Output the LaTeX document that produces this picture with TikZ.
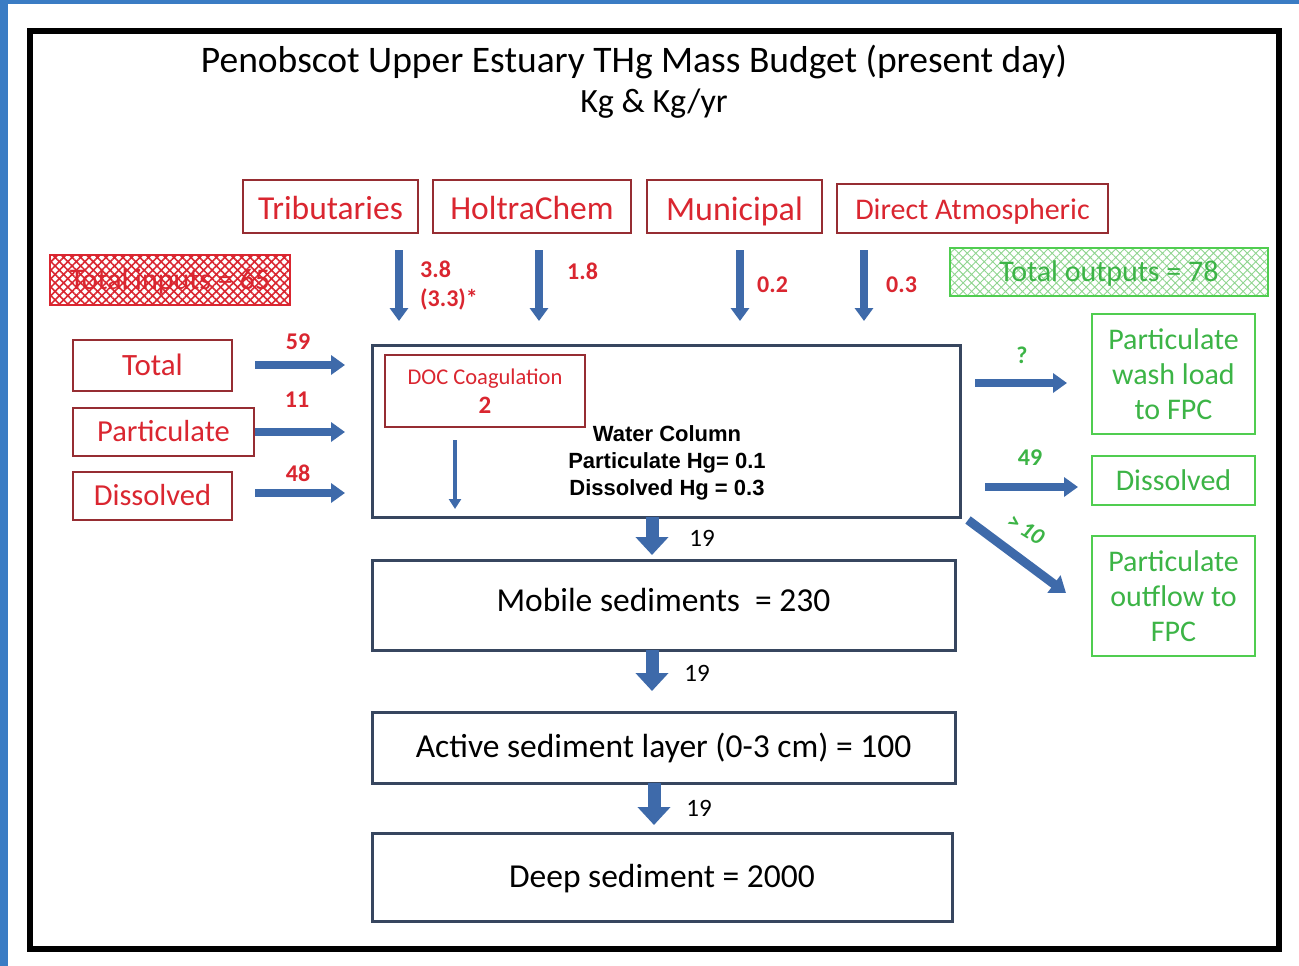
\documentclass[tikz,border=0pt]{standalone}
\usepackage{fontspec}
\setmainfont{Carlito}
\newfontfamily\arialf{Liberation Sans}
\usetikzlibrary{arrows.meta,patterns.meta}
\definecolor{frameblue}{RGB}{58,124,196}
\definecolor{boxred}{RGB}{150,45,50}
\definecolor{txtred}{RGB}{218,38,48}
\definecolor{boxgreen}{RGB}{80,205,80}
\definecolor{txtgreen}{RGB}{60,180,70}
\definecolor{arrowblue}{RGB}{62,106,170}
\definecolor{slate}{RGB}{55,70,95}
\newcommand{\fsz}[1]{\fontsize{#1}{#1}\selectfont}
\tikzset{
  fs/.style 2 args={font=\fsz{#1}, text height=#2*#1pt, text depth=0.2*#1pt},
  redbox/.style={draw=boxred, line width=1.5pt, text=txtred, inner sep=0pt},
  greenbox/.style={draw=boxgreen, line width=1.5pt, text=txtgreen, inner sep=0pt, align=center},
  slatebox/.style={draw=slate, line width=3pt, inner sep=0pt},
  redlbl/.style={text=txtred, font=\fsz{24}\bfseries, inner sep=0pt},
  greenlbl/.style={text=txtgreen, font=\fsz{24}\bfseries, inner sep=0pt},
  blacklbl/.style={text=black, font=\fsz{25}, inner sep=0pt},
  downarrow/.style={draw=arrowblue, line width=8pt, -{Triangle[width=18pt,length=13pt]}},
  sidearrow/.style={draw=arrowblue, line width=8pt, -{Triangle[width=19pt,length=14pt]}},
  bigarrow/.style={draw=arrowblue, line width=13pt, -{Triangle[width=32pt,length=18pt]}},
  thinarrow/.style={draw=arrowblue, line width=3.5pt, -{Triangle[width=12pt,length=10pt]}},
}
\begin{document}
\begin{tikzpicture}[x=1pt,y=-1pt]
\useasboundingbox (0,0) rectangle (1299,966);
\fill[white] (0,0) rectangle (1299,966);
\fill[frameblue] (0,0) rectangle (1299,4);
\fill[frameblue] (0,0) rectangle (8,966);
\draw[line width=6pt] (30,31.5) rectangle (1279,948.5);

% title
\node[font=\fsz{37.5}, inner sep=0pt, anchor=base] (title) at (634,73) {Penobscot Upper Estuary THg Mass Budget (present day)};
\node[font=\fsz{34}, inner sep=0pt, anchor=base] (sub) at (654,113) {Kg \& Kg/yr};

% top sources
\node[redbox, fs={33.5}{1.0}, minimum width=175pt, minimum height=53pt] (trib) at (330.5,206.5) {Tributaries};
\node[redbox, fs={33.5}{1.0}, minimum width=198pt, minimum height=53pt] (holt) at (532,206.5) {HoltraChem};
\node[redbox, fs={34}{1.0}, minimum width=175pt, minimum height=53pt] (muni) at (734.5,206.5) {Municipal};
\node[redbox, fs={30}{0.9}, minimum width=271pt, minimum height=49pt] (atm) at (972.5,208.5) {Direct Atmospheric};

% totals
\node[draw=txtred, line width=1.5pt, minimum width=240pt, minimum height=50pt, inner sep=0pt,
      fill=red!12, pattern={Hatch[angle=45,distance=6pt,line width=1.6pt]}, pattern color=txtred] (tin) at (170,280) {};
\node[text=txtred, fs={30}{0.86}, inner sep=0pt] (tinlbl) at (tin.center) {Total inputs = 65};
\node[draw=boxgreen, line width=1.5pt, minimum width=318pt, minimum height=48pt, inner sep=0pt,
      pattern={Hatch[angle=45,distance=6pt,line width=0.9pt]}, pattern color=green!45!gray!60] (tout) at (1109,272) {};
\node[text=txtgreen, fs={30}{0.86}, inner sep=0pt] (toutlbl) at (tout.center) {Total outputs = 78};

% top arrows
\coordinate (a1s) at (399,250); \coordinate (a1e) at (399,321);
\coordinate (a2s) at (539,250); \coordinate (a2e) at (539,321);
\coordinate (a3s) at (740,250); \coordinate (a3e) at (740,321);
\coordinate (a4s) at (864,250); \coordinate (a4e) at (864,321);
\draw[downarrow] (a1s) -- (a1e);
\draw[downarrow] (a2s) -- (a2e);
\draw[downarrow] (a3s) -- (a3e);
\draw[downarrow] (a4s) -- (a4e);
\node[redlbl, anchor=west] (l38) at (420,269) {3.8};
\node[redlbl, anchor=west] (l33) at (420,299) {(3.3)*};
\node[redlbl, anchor=west] (l18) at (567,271) {1.8};
\node[redlbl, anchor=west] (l02) at (757,285) {0.2};
\node[redlbl, anchor=west] (l03) at (886,285) {0.3};

% left inputs
\node[redbox, fs={31}{0.82}, minimum width=159pt, minimum height=51pt] (tot) at (152.5,365.5) {Total};
\node[redbox, fs={30.5}{0.82}, minimum width=181pt, minimum height=48pt] (part) at (163.5,432) {Particulate};
\node[redbox, fs={30.5}{0.82}, minimum width=159pt, minimum height=48pt] (diss) at (152.5,496) {Dissolved};

% water column
\node[slatebox, minimum width=588pt, minimum height=172pt] (wc) at (666,431) {};
\node[redbox, minimum width=200pt, minimum height=72pt, font=\fsz{22.5}, align=center] (doc) at (485,391) {DOC Coagulation\\[7pt]{\fsz{25}\bfseries 2}};
\node[font=\arialf\bfseries\fsz{22}, align=center, inner sep=0pt] (wctext) at (667,463) {Water Column\\[5pt]Particulate Hg= 0.1\\[5pt]Dissolved Hg = 0.3};
\coordinate (docs) at (455,440);
\coordinate (doce) at (455,509);
\draw[thinarrow] (docs) -- (doce);

\coordinate (s1) at (255,365); \coordinate (t1) at (345,365);
\coordinate (s2) at (255,432); \coordinate (t2) at (345,432);
\coordinate (s3) at (255,493); \coordinate (t3) at (345,493);
\draw[sidearrow] (s1) -- (t1);
\draw[sidearrow] (s2) -- (t2);
\draw[sidearrow] (s3) -- (t3);
\node[redlbl] (l59) at (298,342) {59};
\node[redlbl] (l11) at (297,400) {11};
\node[redlbl] (l48) at (298,473) {48};

% right outputs
\node[greenbox, minimum width=163pt, minimum height=120pt, font=\fsz{30}] (wash) at (1173.5,374) {Particulate\\[5pt]wash load\\[5pt]to FPC};
\node[greenbox, fs={30}{0.86}, minimum width=163pt, minimum height=49pt] (rdiss) at (1173.5,480.5) {Dissolved};
\node[greenbox, minimum width=163pt, minimum height=120pt, font=\fsz{30}] (outf) at (1173.5,596) {Particulate\\[5pt]outflow to\\[5pt]FPC};
\coordinate (r1s) at (975,383); \coordinate (r1e) at (1067,383);
\coordinate (r2s) at (985,487); \coordinate (r2e) at (1078,487);
\coordinate (r3s) at (968,520); \coordinate (r3e) at (1066,593);
\draw[sidearrow] (r1s) -- (r1e);
\draw[sidearrow] (r2s) -- (r2e);
\draw[draw=arrowblue, line width=9pt, -{Triangle[width=21pt,length=15pt]}] (r3s) -- (r3e);
\node[greenlbl] (lq) at (1022,355) {?};
\node[greenlbl] (l49) at (1030,458) {49};
\node[greenlbl, font=\fsz{23}\bfseries\itshape, rotate=-32] (l10) at (1026,529) {>\kern4pt10};

% sediments
\node[slatebox, fs={33.5}{0.58}, minimum width=583pt, minimum height=90pt] (mob) at (663.5,605) {Mobile sediments \ = 230};
\node[slatebox, fs={33.5}{0.8}, minimum width=583pt, minimum height=71pt] (act) at (663.5,747.5) {Active sediment layer (0-3 cm) = 100};
\node[slatebox, fs={33.5}{0.8}, minimum width=580pt, minimum height=88pt] (deep) at (662,877) {Deep sediment = 2000};

\coordinate (b1s) at (652,517); \coordinate (b1e) at (652,555);
\coordinate (b2s) at (652,650); \coordinate (b2e) at (652,691);
\coordinate (b3s) at (654,783); \coordinate (b3e) at (654,825);
\draw[bigarrow] (b1s) -- (b1e);
\draw[bigarrow] (b2s) -- (b2e);
\draw[bigarrow] (b3s) -- (b3e);
\node[blacklbl] (n1) at (702,538) {19};
\node[blacklbl] (n2) at (697,673) {19};
\node[blacklbl] (n3) at (699,808) {19};
\end{tikzpicture}
\end{document}
